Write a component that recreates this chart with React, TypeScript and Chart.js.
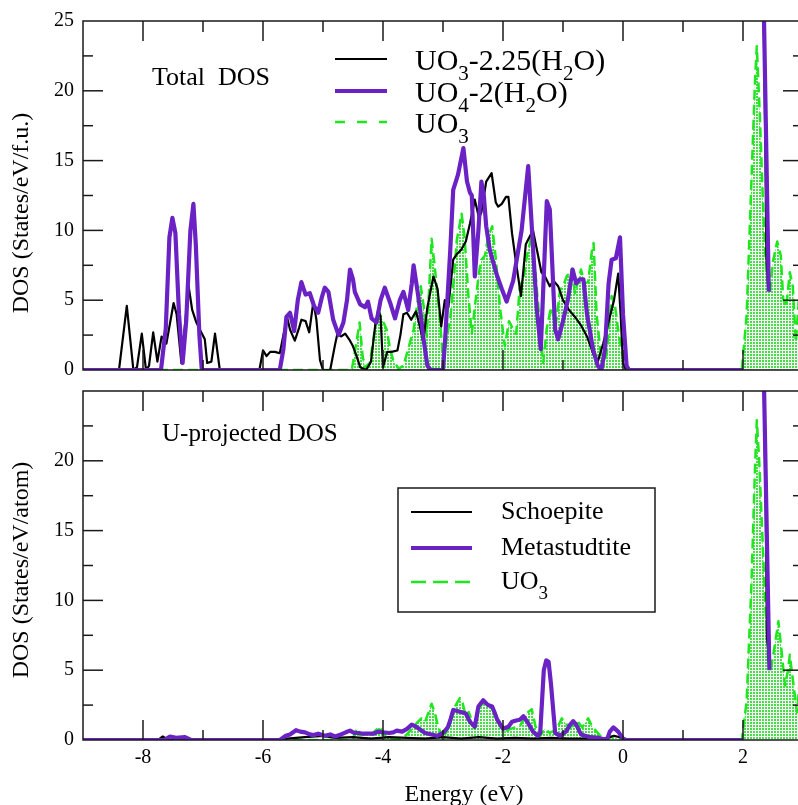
import React, { useEffect, useRef } from 'react';
import { Chart, registerables } from 'chart.js';

Chart.register(...registerables);

type Pt = [number, number | null];

// ---------- axis ticks ----------
const energyTicks = [-8, -6, -4, -2, 0, 2];
const energyMinorTicks = [-7, -5, -3, -1, 1];
const dosTicksTop = [0, 5, 10, 15, 20, 25];
const dosTicksBottom = [0, 5, 10, 15, 20];
const dosMinorTicks = [2.5, 7.5, 12.5, 17.5, 22.5];

// ---------- series names ----------
const totalNames = ['UO_3-2.25(H_2O)', 'UO_4-2(H_2O)', 'UO_3'];
const uNames = ['Schoepite', 'Metastudtite', 'UO_3'];

// ---------- Total DOS (States/eV/f.u.) ----------
const totalSchoepite: Pt[] = [
  [-9, 0], [-8.4, 0], [-8.27, 4.6], [-8.16, 0], [-8.1, 0.2], [-8.02, 2.6], [-7.95, 0], [-7.9, 0.3],
  [-7.83, 2.7], [-7.76, 0.6], [-7.69, 2.4], [-7.61, 1.9], [-7.49, 4.8], [-7.44, 4.0], [-7.36, 0.5],
  [-7.24, 6.0], [-7.18, 4.3], [-7.11, 3.4], [-7.03, 2.7], [-6.97, 2.2], [-6.93, 0.5], [-6.86, 0.6],
  [-6.8, 2.6], [-6.72, 0], [-6.06, 0], [-6.0, 1.4], [-5.94, 1.0], [-5.88, 1.3], [-5.8, 1.3], [-5.72, 1.2],
  [-5.66, 2.5], [-5.6, 3.8], [-5.55, 2.9], [-5.47, 2.1], [-5.4, 3.0], [-5.36, 3.6], [-5.29, 3.5],
  [-5.23, 2.7], [-5.16, 4.9], [-5.11, 3.6], [-5.05, 0.7], [-5.0, 0], [-4.88, 0], [-4.8, 1.8], [-4.76, 2.6],
  [-4.7, 2.4], [-4.63, 2.6], [-4.55, 2.1], [-4.5, 1.7], [-4.44, 1.0], [-4.38, 0.2], [-4.28, 0], [-4.2, 0.6],
  [-4.13, 3.2], [-4.08, 4.3], [-4.04, 3.8], [-4.0, 0.2], [-3.93, 1.3], [-3.86, 1.3], [-3.76, 1.4],
  [-3.71, 2.5], [-3.66, 4.0], [-3.6, 4.1], [-3.53, 3.6], [-3.45, 4.2], [-3.39, 3.2], [-3.33, 2.0],
  [-3.26, 4.5], [-3.16, 6.7], [-3.09, 5.8], [-3.03, 3.1], [-2.97, 5.0], [-2.91, 4.5], [-2.83, 7.9],
  [-2.77, 8.3], [-2.7, 8.6], [-2.62, 9.2], [-2.55, 10.5], [-2.47, 12.2], [-2.4, 10.9], [-2.36, 11.3],
  [-2.28, 13.5], [-2.19, 14.1], [-2.12, 12.0], [-2.08, 11.7], [-2.02, 11.9], [-1.95, 12.4], [-1.91, 12.4],
  [-1.85, 9.8], [-1.78, 7.6], [-1.7, 5.3], [-1.62, 9.0], [-1.55, 9.6], [-1.5, 10.0], [-1.43, 8.5],
  [-1.36, 7.0], [-1.3, 6.7], [-1.22, 6.0], [-1.16, 6.4], [-1.08, 6.0], [-1.0, 5.0], [-0.9, 4.3], [-0.8, 3.8],
  [-0.7, 3.2], [-0.6, 2.4], [-0.5, 1.2], [-0.42, 0.6], [-0.33, 1.9], [-0.22, 3.8], [-0.15, 5.0],
  [-0.08, 6.9], [-0.04, 4.0], [0.0, 0.5], [0.05, 0], [2.0, 0], [2.2, null],
  [2.33, 30], [2.37, 17], [2.39, 8.0], [2.42, 5.9],
];

const totalMetastudtite: Pt[] = [
  [-9, 0], [-7.7, 0], [-7.62, 3.0], [-7.56, 9.5], [-7.51, 10.9], [-7.46, 9.8], [-7.4, 4.0], [-7.34, 0.5],
  [-7.28, 3.5], [-7.21, 10.0], [-7.16, 11.9], [-7.12, 9.0], [-7.06, 2.5], [-7.02, 0], [-5.72, 0],
  [-5.66, 1.5], [-5.61, 3.8], [-5.55, 4.1], [-5.48, 2.8], [-5.42, 5.0], [-5.36, 6.3], [-5.29, 5.4],
  [-5.22, 5.5], [-5.15, 4.6], [-5.08, 4.1], [-5.02, 5.2], [-4.97, 5.9], [-4.91, 5.6], [-4.83, 3.6],
  [-4.74, 2.5], [-4.66, 3.4], [-4.6, 5.0], [-4.55, 7.2], [-4.5, 6.5], [-4.47, 5.6], [-4.38, 4.7],
  [-4.3, 4.5], [-4.25, 4.9], [-4.19, 3.7], [-4.11, 3.4], [-4.04, 5.0], [-3.97, 5.9], [-3.88, 4.8],
  [-3.8, 3.7], [-3.72, 5.0], [-3.66, 5.6], [-3.58, 4.3], [-3.52, 6.2], [-3.49, 7.5], [-3.43, 5.8],
  [-3.38, 4.3], [-3.33, 2.4], [-3.26, 0.3], [-3.2, 0], [-3.0, 0], [-2.96, 2.5], [-2.93, 4.8], [-2.88, 8.5],
  [-2.83, 12.9], [-2.75, 14.0], [-2.66, 15.9], [-2.6, 13.5], [-2.55, 12.7], [-2.52, 12.5], [-2.47, 6.7],
  [-2.41, 10.0], [-2.36, 13.5], [-2.32, 12.5], [-2.28, 10.3], [-2.22, 8.6], [-2.11, 6.9], [-2.02, 5.8],
  [-1.94, 4.9], [-1.83, 6.4], [-1.69, 10.0], [-1.58, 14.6], [-1.5, 8.8], [-1.44, 4.5], [-1.37, 1.5],
  [-1.27, 12.1], [-1.22, 11.5], [-1.13, 2.9], [-1.08, 2.2], [-1.0, 3.5], [-0.92, 5.0], [-0.84, 7.2],
  [-0.78, 6.2], [-0.72, 6.5], [-0.66, 6.5], [-0.6, 4.0], [-0.5, 1.5], [-0.42, 0.3], [-0.36, 0],
  [-0.3, 1.5], [-0.24, 6.2], [-0.19, 7.9], [-0.12, 8.0], [-0.05, 9.5], [0.0, 4.0], [0.06, 0.3], [0.1, 0],
  [2.0, 0], [2.2, null], [2.33, 30], [2.43, 5.6],
];

const totalUO3: Pt[] = [
  [-9, 0], [-4.52, 0], [-4.45, 1.8], [-4.39, 3.4], [-4.34, 1.0], [-4.3, 0.2], [-4.22, 0.5], [-4.15, 2.5],
  [-4.08, 4.3], [-4.03, 3.8], [-3.94, 2.9], [-3.88, 1.5], [-3.83, 0.7], [-3.74, 0.1], [-3.66, 0.3],
  [-3.58, 1.5], [-3.49, 2.9], [-3.41, 5.3], [-3.37, 6.0], [-3.32, 4.5], [-3.27, 2.4], [-3.19, 9.4],
  [-3.14, 7.5], [-3.05, 3.6], [-3.0, 0.7], [-2.93, 2.5], [-2.88, 3.6], [-2.82, 6.5], [-2.77, 9.3],
  [-2.69, 11.2], [-2.64, 9.5], [-2.58, 5.5], [-2.52, 2.6], [-2.47, 4.5], [-2.4, 7.0], [-2.36, 7.9],
  [-2.3, 8.2], [-2.25, 9.5], [-2.18, 10.3], [-2.12, 8.0], [-2.05, 4.5], [-1.97, 1.7], [-1.9, 3.5],
  [-1.84, 3.0], [-1.78, 2.6], [-1.72, 6.0], [-1.66, 6.5], [-1.6, 8.2], [-1.53, 9.5], [-1.47, 7.5],
  [-1.4, 4.0], [-1.33, 0.5], [-1.27, 3.0], [-1.2, 4.5], [-1.12, 3.2], [-1.05, 5.7], [-0.98, 6.2],
  [-0.94, 6.7], [-0.86, 7.2], [-0.8, 5.5], [-0.74, 6.5], [-0.7, 7.2], [-0.64, 6.2], [-0.58, 6.3],
  [-0.52, 8.5], [-0.49, 9.1], [-0.44, 4.0], [-0.38, 1.5], [-0.33, 0.2], [-0.27, 1.2], [-0.19, 5.3],
  [-0.13, 4.5], [-0.07, 2.5], [0.0, 0.8], [0.06, 0], [1.98, 0], [2.06, 3.9], [2.14, 13.5], [2.2, 20.7],
  [2.23, 23.2], [2.28, 18.3], [2.34, 11.1], [2.39, 6.8], [2.45, 5.6], [2.5, 7.8], [2.57, 9.2], [2.63, 8.2],
  [2.67, 5.1], [2.72, 4.5], [2.78, 7.0], [2.83, 6.0], [2.88, 2.0], [2.93, 5.0], [3.0, 4.0],
];

// ---------- U-projected DOS (States/eV/atom) ----------
const uSchoepite: Pt[] = [
  [-9, 0], [-7.75, 0], [-7.67, 0.25], [-7.58, 0], [-5.9, 0], [-5.6, 0.1], [-5.3, 0.2], [-5.0, 0.3],
  [-4.8, 0.15], [-4.5, 0.2], [-4.2, 0.1], [-3.9, 0.2], [-3.6, 0.15], [-3.3, 0.1], [-3.0, 0.2], [-2.7, 0.1],
  [-2.4, 0.2], [-2.1, 0.1], [-1.8, 0.15], [-1.5, 0.1], [-1.2, 0.15], [-0.9, 0.1], [-0.6, 0.1], [-0.3, 0.1],
  [-0.15, 0.3], [-0.05, 0.2], [0.02, 0], [2.0, 0], [2.2, null],
  [2.33, 30], [2.38, 16], [2.4, 7.3], [2.45, 5.5],
];

const uMetastudtite: Pt[] = [
  [-9, 0], [-7.65, 0], [-7.55, 0.25], [-7.45, 0.15], [-7.3, 0.2], [-7.2, 0], [-5.72, 0], [-5.62, 0.3],
  [-5.55, 0.4], [-5.45, 0.7], [-5.38, 0.6], [-5.3, 0.55], [-5.22, 0.4], [-5.16, 0.35], [-5.08, 0.45],
  [-4.97, 0.3], [-4.88, 0.4], [-4.8, 0.25], [-4.7, 0.4], [-4.62, 0.55], [-4.55, 0.67], [-4.48, 0.5],
  [-4.4, 0.5], [-4.33, 0.45], [-4.24, 0.45], [-4.16, 0.45], [-4.08, 0.6], [-4.0, 0.55], [-3.9, 0.5],
  [-3.83, 0.55], [-3.77, 0.67], [-3.68, 0.6], [-3.6, 0.8], [-3.52, 1.1], [-3.47, 1.0], [-3.4, 0.8],
  [-3.3, 0.5], [-3.1, 0.3], [-3.0, 0.5], [-2.92, 0.9], [-2.88, 1.4], [-2.83, 2.15], [-2.78, 2.1],
  [-2.7, 2.0], [-2.62, 1.9], [-2.55, 1.3], [-2.47, 0.95], [-2.41, 2.4], [-2.33, 2.85], [-2.25, 2.5],
  [-2.18, 2.4], [-2.1, 1.5], [-2.0, 0.8], [-1.91, 0.95], [-1.85, 1.3], [-1.78, 1.4], [-1.72, 1.45],
  [-1.66, 1.7], [-1.58, 1.2], [-1.5, 0.6], [-1.42, 0.3], [-1.38, 0.5], [-1.32, 5.0], [-1.28, 5.7],
  [-1.24, 5.6], [-1.2, 4.0], [-1.13, 0.5], [-1.05, 0.3], [-0.95, 0.6], [-0.88, 1.1], [-0.83, 1.35],
  [-0.78, 1.1], [-0.7, 0.4], [-0.55, 0.2], [-0.4, 0.15], [-0.27, 0], [-0.22, 0.6], [-0.16, 0.9],
  [-0.08, 0.6], [0.0, 0.1], [0.05, 0], [2.0, 0], [2.2, null], [2.33, 30], [2.44, 5.0],
];

const uUO3: Pt[] = [
  [-9, 0], [-4.52, 0], [-4.47, 0.4], [-4.44, 0.85], [-4.38, 0.35], [-4.3, 0.4], [-4.22, 0.3], [-4.12, 0.7],
  [-4.05, 0.95], [-4.0, 0.5], [-3.95, 0.2], [-3.85, 0.1], [-3.72, 0.05], [-3.6, 0.4], [-3.52, 0.8],
  [-3.44, 1.2], [-3.36, 1.55], [-3.3, 1.3], [-3.24, 2.0], [-3.19, 2.6], [-3.14, 2.0], [-3.08, 0.95],
  [-3.0, 0.1], [-2.92, 0.8], [-2.86, 1.5], [-2.8, 2.4], [-2.72, 3.0], [-2.67, 2.6], [-2.62, 1.7],
  [-2.57, 2.0], [-2.47, 0.8], [-2.4, 2.2], [-2.33, 2.75], [-2.28, 2.6], [-2.22, 2.4], [-2.13, 2.0],
  [-2.05, 1.0], [-1.97, 0.6], [-1.88, 0.8], [-1.8, 0.9], [-1.72, 1.0], [-1.64, 1.6], [-1.58, 2.0],
  [-1.52, 2.2], [-1.46, 1.0], [-1.38, 0.3], [-1.3, 0.8], [-1.22, 0.5], [-1.14, 0.7], [-1.08, 1.0],
  [-1.02, 1.55], [-0.96, 1.2], [-0.9, 0.95], [-0.83, 1.0], [-0.75, 1.3], [-0.68, 0.9], [-0.58, 1.55],
  [-0.52, 1.0], [-0.44, 0.6], [-0.33, 0.05], [-0.22, 0.25], [-0.1, 0.1], [0.0, 0], [1.98, 0],
  [2.06, 2.75], [2.14, 11.1], [2.2, 19.5], [2.23, 22.9], [2.27, 20.0], [2.31, 15.9], [2.37, 9.9],
  [2.42, 5.4], [2.47, 5.2], [2.53, 6.8], [2.59, 8.5], [2.64, 6.5], [2.7, 3.9], [2.75, 5.0], [2.78, 6.1],
  [2.84, 4.0], [2.9, 2.0], [2.95, 4.5], [3.0, 4.0],
];

// ---------- styling ----------
const FONT = '"Liberation Serif", "Times New Roman", serif';
const COL_BLACK = '#000000';
const COL_PURPLE = '#6a22c4';
const COL_GREEN = '#1fe61f';
const AXIS_COL = '#1a1a1a';

function makeDotPattern(): CanvasPattern | string {
  const c = document.createElement('canvas');
  c.width = 3;
  c.height = 3;
  const g = c.getContext('2d');
  if (!g) return 'rgba(60,220,60,0.4)';
  g.fillStyle = '#46de46';
  g.fillRect(0, 0, 2, 2);
  const p = g.createPattern(c, 'repeat');
  return p || 'rgba(60,220,60,0.4)';
}

function drawRich(ctx: CanvasRenderingContext2D, text: string, x: number, y: number, size: number, subSize: number, subDy: number) {
  const parts = text.split(/(_.)/).filter((p) => p.length > 0);
  let cx = x;
  for (const p of parts) {
    if (p[0] === '_' && p.length === 2) {
      ctx.font = `${subSize}px ${FONT}`;
      ctx.fillText(p[1], cx, y + subDy);
      cx += ctx.measureText(p[1]).width;
    } else {
      ctx.font = `${size}px ${FONT}`;
      ctx.fillText(p, cx, y);
      cx += ctx.measureText(p).width;
    }
  }
}

interface DecorCfg {
  panelLabel: { text: string; x: number; y: number; size: number };
  yTitle: { text: string; cx: number; cy: number; size: number };
  xTitle?: { text: string; cx: number; y: number; size: number };
  legend: {
    x1: number; x2: number; textX: number; rows: number[]; textDy: number;
    size: number; subSize: number; subDy: number; greenDash: number[];
    box?: [number, number, number, number];
  };
}

function makeDecor(cfg: DecorCfg) {
  return {
    id: 'decor',
    afterDatasetsDraw(chart: any) {
      const { ctx, chartArea: a, scales } = chart;
      const xs = scales.x;
      const ys = scales.y;
      ctx.save();
      ctx.strokeStyle = AXIS_COL;
      ctx.lineWidth = 1.5;
      ctx.setLineDash([]);
      const seg = (x1: number, y1: number, x2: number, y2: number) => {
        ctx.beginPath();
        ctx.moveTo(x1, y1);
        ctx.lineTo(x2, y2);
        ctx.stroke();
      };
      dosTicksTop.forEach((v) => {
        if (v <= ys.min || v >= ys.max) return;
        const p = ys.getPixelForValue(v);
        seg(a.left, p, a.left + 20, p);
        seg(a.right, p, a.right - 20, p);
      });
      dosMinorTicks.forEach((v) => {
        const p = ys.getPixelForValue(v);
        seg(a.left, p, a.left + 10, p);
        seg(a.right, p, a.right - 10, p);
      });
      energyTicks.forEach((v) => {
        const p = xs.getPixelForValue(v);
        seg(p, a.top, p, a.top + 20);
        seg(p, a.bottom, p, a.bottom - 20);
      });
      energyMinorTicks.forEach((v) => {
        const p = xs.getPixelForValue(v);
        seg(p, a.top, p, a.top + 11);
        seg(p, a.bottom, p, a.bottom - 10);
      });
      ctx.strokeRect(a.left, a.top, a.right - a.left, a.bottom - a.top);
      ctx.restore();
    },
    afterDraw(chart: any) {
      const ctx: CanvasRenderingContext2D = chart.ctx;
      ctx.save();
      ctx.fillStyle = '#000';
      ctx.textAlign = 'left';
      ctx.textBaseline = 'alphabetic';
      const pl = cfg.panelLabel;
      ctx.font = `${pl.size}px ${FONT}`;
      ctx.fillText(pl.text, pl.x, pl.y);
      const yt = cfg.yTitle;
      ctx.save();
      ctx.translate(yt.cx, yt.cy);
      ctx.rotate(-Math.PI / 2);
      ctx.textAlign = 'center';
      ctx.textBaseline = 'middle';
      ctx.font = `${yt.size}px ${FONT}`;
      ctx.fillText(yt.text, 0, 0);
      ctx.restore();
      if (cfg.xTitle) {
        const xt = cfg.xTitle;
        ctx.textAlign = 'center';
        ctx.font = `${xt.size}px ${FONT}`;
        ctx.fillText(xt.text, xt.cx, xt.y);
        ctx.textAlign = 'left';
      }
      const lg = cfg.legend;
      if (lg.box) {
        ctx.strokeStyle = AXIS_COL;
        ctx.lineWidth = 1.5;
        ctx.strokeRect(lg.box[0], lg.box[1], lg.box[2] - lg.box[0], lg.box[3] - lg.box[1]);
      }
      chart.data.datasets.forEach((ds: any, i: number) => {
        const yy = lg.rows[i];
        ctx.save();
        ctx.strokeStyle = ds.borderColor;
        ctx.lineWidth = ds.borderWidth;
        ctx.setLineDash(ds.borderDash && ds.borderDash.length ? lg.greenDash : []);
        ctx.beginPath();
        ctx.moveTo(lg.x1, yy);
        ctx.lineTo(lg.x2, yy);
        ctx.stroke();
        ctx.restore();
        ctx.fillStyle = '#000';
        drawRich(ctx, ds.label, lg.textX, yy + lg.textDy, lg.size, lg.subSize, lg.subDy);
      });
      ctx.restore();
    },
  };
}

function buildChart(canvas: HTMLCanvasElement, series: { label: string; points: Pt[]; color: string; width: number; dash?: number[]; fill?: any; order: number }[], opts: {
  yTicks: number[]; showX: boolean; padding: { top: number; bottom: number; left: number; right: number }; xHeight: number; decor: DecorCfg;
}) {
  const tickFont = { family: FONT, size: 20 };
  return new Chart(canvas, {
    type: 'line',
    data: {
      datasets: series.map((s) => ({
        label: s.label,
        data: s.points.map(([x, y]) => ({ x, y })),
        borderColor: s.color,
        borderWidth: s.width,
        borderDash: s.dash || [],
        fill: s.fill ? 'origin' : false,
        backgroundColor: s.fill || 'transparent',
        pointRadius: 0,
        pointHoverRadius: 0,
        tension: 0,
        spanGaps: false,
        order: s.order,
        borderJoinStyle: 'round' as const,
      })),
    },
    options: {
      animation: false,
      responsive: false,
      devicePixelRatio: 1,
      events: [],
      layout: { padding: opts.padding },
      plugins: {
        legend: { display: false },
        tooltip: { enabled: false },
        title: { display: false },
      },
      scales: {
        x: {
          type: 'linear',
          min: -9,
          max: 3,
          display: opts.showX,
          grid: { display: false, drawTicks: false },
          border: { display: false },
          ticks: { font: tickFont, color: '#000', padding: 6, maxRotation: 0, autoSkip: false },
          afterBuildTicks: (s: any) => {
            s.ticks = energyTicks.map((v) => ({ value: v }));
          },
          afterFit: (s: any) => {
            s.height = opts.xHeight;
            s.paddingLeft = 0;
            s.paddingRight = 0;
          },
        },
        y: {
          type: 'linear',
          min: 0,
          max: 25,
          grid: { display: false, drawTicks: false },
          border: { display: false },
          ticks: { font: tickFont, color: '#000', padding: 9, autoSkip: false },
          afterBuildTicks: (s: any) => {
            s.ticks = opts.yTicks.map((v) => ({ value: v }));
          },
          afterFit: (s: any) => {
            s.width = 83;
            s.paddingTop = 0;
            s.paddingBottom = 0;
          },
        },
      },
    } as any,
    plugins: [makeDecor(opts.decor)],
  });
}

export default function App() {
  const topRef = useRef<HTMLCanvasElement>(null);
  const botRef = useRef<HTMLCanvasElement>(null);

  useEffect(() => {
    if (!topRef.current || !botRef.current) return;
    const pattern = makeDotPattern();
    const top = buildChart(
      topRef.current,
      [
        { label: totalNames[0], points: totalSchoepite, color: COL_BLACK, width: 2.2, order: 1 },
        { label: totalNames[1], points: totalMetastudtite, color: COL_PURPLE, width: 4.2, order: 0 },
        { label: totalNames[2], points: totalUO3, color: COL_GREEN, width: 2.5, dash: [10, 5], fill: pattern, order: 2 },
      ],
      {
        yTicks: dosTicksTop,
        showX: false,
        padding: { top: 21, bottom: 10, left: 0, right: 17 },
        xHeight: 0,
        decor: {
          panelLabel: { text: 'Total  DOS', x: 152, y: 85, size: 26 },
          yTitle: { text: 'DOS (States/eV/f.u.)', cx: 22, cy: 213, size: 24 },
          legend: { x1: 335, x2: 387, textX: 415, rows: [59, 91, 122], textDy: 11, size: 30, subSize: 21, subDy: 10, greenDash: [10, 12] },
        },
      }
    );
    const bottom = buildChart(
      botRef.current,
      [
        { label: uNames[0], points: uSchoepite, color: COL_BLACK, width: 2.2, order: 1 },
        { label: uNames[1], points: uMetastudtite, color: COL_PURPLE, width: 4.2, order: 0 },
        { label: uNames[2], points: uUO3, color: COL_GREEN, width: 2.5, dash: [10, 5], fill: pattern, order: 2 },
      ],
      {
        yTicks: dosTicksBottom,
        showX: true,
        padding: { top: 11, bottom: 25, left: 0, right: 17 },
        xHeight: 40,
        decor: {
          panelLabel: { text: 'U-projected DOS', x: 162, y: 61, size: 25 },
          yTitle: { text: 'DOS (States/eV/atom)', cx: 22, cy: 190, size: 24 },
          xTitle: { text: 'Energy (eV)', cx: 464, y: 421, size: 24 },
          legend: { x1: 411, x2: 472, textX: 501, rows: [132, 168, 202], textDy: 7, size: 26, subSize: 19, subDy: 10, greenDash: [15, 7], box: [398, 108, 655, 232] },
        },
      }
    );
    return () => {
      top.destroy();
      bottom.destroy();
    };
  }, []);

  return (
    <div style={{ position: 'absolute', left: 0, top: 0, width: 798, height: 805, overflow: 'hidden', background: '#ffffff' }}>
      <canvas ref={topRef} width={820} height={380} style={{ position: 'absolute', left: 0, top: 0, width: 820, height: 380 }} />
      <canvas ref={botRef} width={820} height={425} style={{ position: 'absolute', left: 0, top: 380, width: 820, height: 425 }} />
    </div>
  );
}
